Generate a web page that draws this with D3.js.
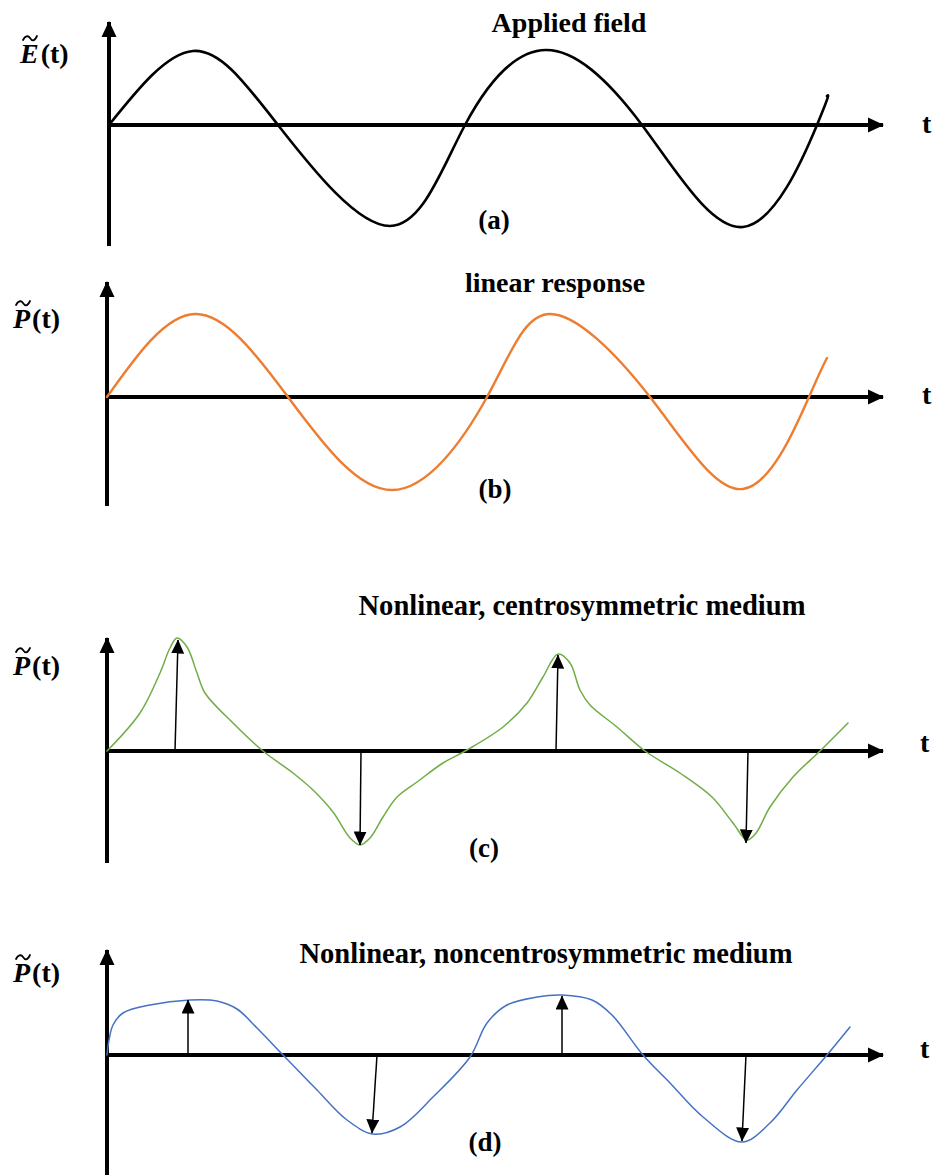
<!DOCTYPE html>
<html>
<head>
<meta charset="utf-8">
<script src="https://cdn.jsdelivr.net/npm/d3@7"></script>
<style>
  html, body { margin: 0; padding: 0; background: #fff; }
  svg { display: block; }
  text { font-family: "Liberation Serif", "Times New Roman", serif; font-weight: bold; fill: #000; }
</style>
</head>
<body>
<svg id="chart" width="936" height="1175"></svg>
<script>
// Panel texts
const panelTitles = ["Applied field", "linear response",
  "Nonlinear, centrosymmetric medium", "Nonlinear, noncentrosymmetric medium"];
const panelLetters = ["(a)", "(b)", "(c)", "(d)"];
const axisSymbols = ["E", "P", "P", "P"];
const timeLabel = "t";

// Waveforms as [time, amplitude] samples
const appliedField = [
  [0, 0], [0.84, 0.74], [1.69, 0], [2.81, -1.01], [3.56, 0], [4.37, 0.75],
  [5.33, 0], [6.34, -1.02], [7.08, 0], [7.18, 0.29]
];
const linearResponse = [
  [0, 0], [0.88, 0.83], [1.81, 0], [2.85, -0.93], [3.80, 0], [4.43, 0.83],
  [5.43, 0], [6.36, -0.92], [7.02, 0], [7.20, 0.39]
];
const centroResponse = [
  [0, 0], [0.33, 0.38], [0.53, 0.78], [0.63, 1.03], [0.70, 1.13], [0.80, 1.04],
  [0.90, 0.78], [0.98, 0.58], [1.26, 0.28], [1.56, 0], [1.86, -0.22], [2.06, -0.39],
  [2.26, -0.61], [2.43, -0.87], [2.53, -0.94], [2.63, -0.87], [2.76, -0.66], [2.90, -0.46],
  [3.10, -0.31], [3.36, -0.12], [3.60, 0.01], [3.96, 0.24], [4.20, 0.48], [4.36, 0.74],
  [4.51, 0.97], [4.63, 0.88], [4.73, 0.61], [4.83, 0.46], [5.10, 0.24], [5.38, 0],
  [5.73, -0.22], [6.05, -0.46], [6.26, -0.72], [6.40, -0.89], [6.49, -0.82], [6.63, -0.56],
  [6.86, -0.26], [7.13, 0], [7.41, 0.28]
];
const noncentroResponse = [
  [0, 0], [0.02, 0.15], [0.06, 0.30], [0.16, 0.42], [0.43, 0.50], [0.83, 0.55],
  [1.10, 0.54], [1.30, 0.46], [1.50, 0.27], [1.76, 0], [2.10, -0.35], [2.40, -0.65],
  [2.66, -0.79], [2.93, -0.72], [3.26, -0.42], [3.63, -0.02],
  [3.80, 0.32], [4.00, 0.50], [4.30, 0.58], [4.55, 0.60], [4.85, 0.55], [5.05, 0.40],
  [5.36, 0], [5.63, -0.28], [5.96, -0.62], [6.35, -0.87], [6.63, -0.68],
  [6.90, -0.35], [7.20, 0], [7.43, 0.28]
];

// Extremum arrows: [base time, tip time, tip amplitude]
const centroArrows = [[0.68, 0.71, 1.11], [2.54, 2.53, -0.94], [4.49, 4.51, 0.96], [6.41, 6.39, -0.92]];
const noncentroArrows = [[0.81, 0.81, 0.55], [2.70, 2.65, -0.78], [4.55, 4.55, 0.59], [6.39, 6.35, -0.86]];

const series = [appliedField, linearResponse, centroResponse, noncentroResponse];
const arrowSets = [[], [], centroArrows, noncentroArrows];

// Layout of the four stacked panels
const layout = [
  { x0: 109, zero: 125, top: 22, bottom: 246, color: "#000000", width: 2.6, titleSize: 28,
    curve: d3.curveNatural,
    title: [569, 32], letter: [494, 229], sym: [20, 63], tLab: [922, 133] },
  { x0: 107, zero: 397, top: 282, bottom: 506, color: "#ED7D31", width: 2.4, titleSize: 28,
    curve: d3.curveNatural,
    title: [555, 292], letter: [495, 498], sym: [13, 328], tLab: [922, 404] },
  { x0: 107, zero: 751, top: 638, bottom: 863, color: "#70AD47", width: 1.5, titleSize: 28.6,
    curve: d3.curveCatmullRom.alpha(0.5),
    title: [582, 615], letter: [484, 857], sym: [13, 675], tLab: [920, 752] },
  { x0: 107, zero: 1055, top: 950, bottom: 1176, color: "#4472C4", width: 1.5, titleSize: 28.6,
    curve: d3.curveCatmullRom.alpha(0.5),
    title: [546, 963], letter: [485, 1151], sym: [13, 982], tLab: [920, 1058] }
];
const axisEnd = 883;

const svg = d3.select("#chart");
const defs = svg.append("defs");

defs.append("marker")
  .attr("id", "axisHead").attr("markerUnits", "userSpaceOnUse")
  .attr("viewBox", "0 0 16 16").attr("refX", 15).attr("refY", 8)
  .attr("markerWidth", 16).attr("markerHeight", 16).attr("orient", "auto")
  .append("path").attr("d", "M0,0.5 L16,8 L0,15.5 Z").attr("fill", "#000");

defs.append("marker")
  .attr("id", "smallHead").attr("markerUnits", "userSpaceOnUse")
  .attr("viewBox", "0 0 14 13").attr("refX", 13.5).attr("refY", 6.5)
  .attr("markerWidth", 14).attr("markerHeight", 13).attr("orient", "auto")
  .append("path").attr("d", "M0,0 L14,6.5 L0,13 Z").attr("fill", "#000");

layout.forEach((L, i) => {
  const x = d3.scaleLinear().domain([0, 7.75]).range([L.x0, L.x0 + 775]);
  const y = d3.scaleLinear().domain([-1, 1]).range([L.zero + 100, L.zero - 100]);
  const g = svg.append("g").attr("class", "panel-" + i);

  // axes
  g.append("line")
    .attr("x1", L.x0).attr("x2", L.x0).attr("y1", L.bottom).attr("y2", L.top)
    .attr("stroke", "#000").attr("stroke-width", 4).attr("marker-end", "url(#axisHead)");
  g.append("line")
    .attr("x1", L.x0 - 2).attr("x2", axisEnd).attr("y1", L.zero).attr("y2", L.zero)
    .attr("stroke", "#000").attr("stroke-width", 4).attr("marker-end", "url(#axisHead)");

  // waveform
  const line = d3.line().x(d => x(d[0])).y(d => y(d[1])).curve(L.curve);
  g.append("path").datum(series[i])
    .attr("d", line).attr("fill", "none")
    .attr("stroke", L.color).attr("stroke-width", L.width)
    .attr("stroke-linecap", "round").attr("stroke-linejoin", "round");

  // extremum arrows
  g.selectAll("line.ext").data(arrowSets[i]).join("line")
    .attr("class", "ext")
    .attr("x1", d => x(d[0])).attr("y1", y(0))
    .attr("x2", d => x(d[1])).attr("y2", d => y(d[2]))
    .attr("stroke", "#000").attr("stroke-width", 1.5)
    .attr("marker-end", "url(#smallHead)");

  // texts
  g.append("text").attr("x", L.title[0]).attr("y", L.title[1])
    .attr("text-anchor", "middle").attr("font-size", L.titleSize).text(panelTitles[i]);
  g.append("text").attr("x", L.letter[0]).attr("y", L.letter[1])
    .attr("text-anchor", "middle").attr("font-size", 27).text(panelLetters[i]);
  g.append("text").attr("x", L.tLab[0]).attr("y", L.tLab[1])
    .attr("font-size", 28).text(timeLabel);

  // symbol label with a tilde over the italic letter
  const sym = g.append("text").attr("x", L.sym[0]).attr("y", L.sym[1]).attr("font-size", 28);
  sym.append("tspan").attr("font-style", "italic").text(axisSymbols[i]);
  sym.append("tspan").attr("dx", 2).text("(t)");
  const tx = L.sym[0] + 3, ty = L.sym[1] - 28;
  g.append("path")
    .attr("d", `M${tx},${ty + 5} C${tx + 2},${ty + 1} ${tx + 5},${ty} ${tx + 7},${ty + 3}` +
               ` S${tx + 11},${ty + 7} ${tx + 14},${ty + 1}`)
    .attr("fill", "none").attr("stroke", "#000").attr("stroke-width", 1.8)
    .attr("stroke-linecap", "round");
});
</script>
</body>
</html>
